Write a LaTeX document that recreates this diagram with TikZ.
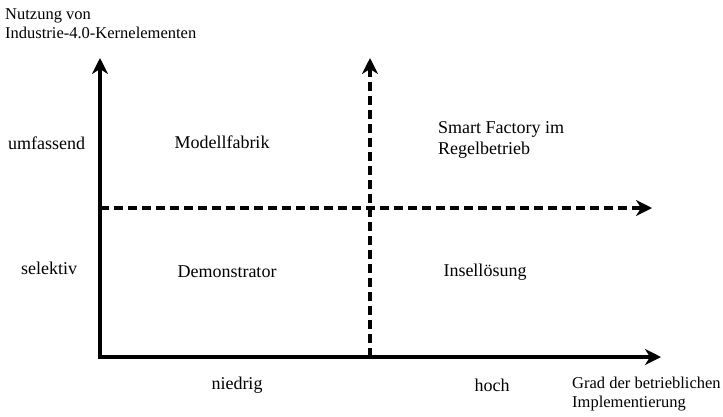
\documentclass[tikz,border=0pt]{standalone}
\usepackage{fontspec}
\setmainfont{Liberation Serif}
\usetikzlibrary{arrows.meta}
\begin{document}
\begin{tikzpicture}[x=1pt,y=-1pt,
  tip/.tip={Stealth[length=16pt,width=16pt,inset=5pt]},
  axis/.style={line width=3.4pt,-tip},
  dashaxis/.style={axis,dash pattern=on 9pt off 5pt},
  lbl/.style={font=\fontsize{18}{21}\selectfont,inner sep=0pt},
  corner/.style={font=\fontsize{16.5}{19}\selectfont,inner sep=0pt,align=left}]
\useasboundingbox (0,0) rectangle (723,416);
\coordinate (O) at (100,357);
\coordinate (Ytip) at (100,58);
\coordinate (Xtip) at (661,357);
\coordinate (Vb) at (370,357);
\coordinate (Vtip) at (370,58);
\coordinate (Hl) at (100,208);
\coordinate (Htip) at (652,208);
\draw[axis,tip-tip,line join=miter] (Ytip) -- (O) -- (Xtip);
\draw[dashaxis] (Vb) -- (Vtip);
\draw[dashaxis] (Hl) -- (Htip);
\node[corner,anchor=north west] (ylab) at (5,8) {Nutzung von\\Industrie-4.0-Kernelementen};
\node[corner,anchor=north west] (xlab) at (572,377) {Grad der betrieblichen\\Implementierung};
\node[lbl,anchor=west] (umf) at (8,143) {umfassend};
\node[lbl,anchor=west] (sel) at (21,268) {selektiv};
\node[lbl] (mod) at (222,142) {Modellfabrik};
\node[lbl,anchor=west,align=left] (smart) at (438,140) {Smart Factory im\\Regelbetrieb};
\node[lbl] (dem) at (227,272) {Demonstrator};
\node[lbl] (ins) at (485,272) {Insellösung};
\node[lbl] (nie) at (237,385) {niedrig};
\node[lbl] (hoch) at (492,385) {hoch};
\end{tikzpicture}
\end{document}
